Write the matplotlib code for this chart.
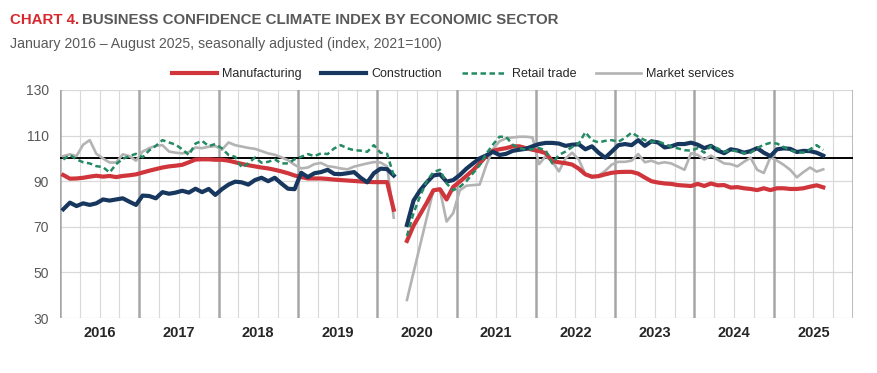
import numpy as np
import matplotlib
matplotlib.use("Agg")
import matplotlib.pyplot as plt
from matplotlib import font_manager
from matplotlib.lines import Line2D

nan = np.nan
years = [str(y) for y in range(2016, 2026)]

manufacturing = [
    92.7, 91.1, 91.2, 91.5, 92.0, 92.4, 92.0, 92.3, 91.8, 92.3, 92.6, 93.0,
    93.8, 94.6, 95.3, 96.0, 96.5, 96.8, 97.2, 98.3, 99.5, 99.6, 99.6, 99.4,
    99.4, 99.0, 98.3, 97.6, 97.0, 96.5, 96.0, 95.6, 95.0, 94.3, 93.5, 92.5,
    91.8, 91.2, 91.2, 91.2, 91.0, 90.7, 90.5, 90.3, 90.1, 89.9, 89.7, 89.6,
    89.6, 89.6, 77.5, nan, 63.8, 70.5, 75.5, 80.5, 86.0, 86.5, 82.0, 87.5,
    89.8, 92.3, 94.8, 97.8, 101.0, 103.3, 104.0, 104.5, 105.3, 105.3, 104.5, 103.8,
    103.2, 102.3, 98.8, 98.3, 97.9, 97.3, 95.5, 93.0, 92.0, 92.2, 93.0, 93.7,
    94.0, 94.1, 94.1, 93.3, 91.6, 90.0, 89.4, 89.0, 88.8, 88.3, 88.1, 87.9,
    88.8, 87.9, 89.0, 88.2, 88.3, 87.2, 87.4, 86.9, 86.6, 86.1, 86.9, 86.1,
    86.9, 86.9, 86.6, 86.6, 86.9, 87.6, 88.2, 87.3,
]
construction = [
    77.7, 80.6, 79.1, 80.3, 79.6, 80.3, 82.0, 81.5, 82.0, 82.5, 81.0, 79.6,
    83.7, 83.5, 82.5, 85.2, 84.5, 85.0, 85.8, 85.0, 86.7, 85.2, 86.6, 84.0,
    86.5, 88.5, 89.8, 89.5, 88.5, 90.5, 91.5, 90.0, 91.5, 89.0, 86.7, 86.5,
    93.7, 91.8, 93.5, 94.0, 95.0, 93.2, 93.1, 93.5, 94.0, 91.5, 89.5, 93.5,
    95.5, 95.3, 92.5, nan, 70.8, 81.5, 86.0, 89.5, 92.5, 93.0, 89.8, 90.5,
    92.7, 95.5, 97.8, 100.0, 101.3, 102.9, 101.5, 102.0, 103.3, 103.8, 104.2, 105.3,
    106.3, 106.8, 106.8, 106.5, 105.5, 106.0, 106.2, 104.0, 105.3, 102.5, 100.3, 103.0,
    105.8, 106.3, 105.8, 108.0, 105.5, 107.5, 107.0, 104.8, 105.3, 106.3, 106.3, 106.9,
    106.0, 104.5, 105.5, 103.5, 102.3, 104.0, 103.5, 102.5, 103.2, 104.5, 102.5, 101.0,
    104.0, 104.4, 104.2, 102.8, 103.3, 103.2, 102.5, 101.2,
]
retail_trade = [
    99.5, 101.5, 99.6, 98.3, 97.8, 96.6, 96.2, 93.8, 97.5, 99.8, 101.0, 102.0,
    100.5, 103.5, 105.5, 108.0, 107.0, 106.0, 104.0, 101.5, 106.5, 107.7, 105.4, 106.3,
    104.4, 101.5, 100.7, 96.0, 97.8, 100.4, 98.1, 98.5, 99.6, 97.8, 97.8, 99.6,
    100.7, 101.9, 101.0, 102.2, 101.9, 104.4, 105.8, 104.4, 103.6, 103.4, 102.9, 105.8,
    102.5, 102.0, 92.5, nan, 66.0, 76.0, 83.5, 90.0, 94.0, 95.0, 89.0, 86.0,
    87.5, 90.0, 93.5, 97.0, 102.0, 106.0, 109.5, 109.5, 106.0, 104.5, 103.8, 104.0,
    104.5, 103.5, 97.8, 101.5, 103.0, 105.0, 106.5, 111.5, 108.0, 107.0, 107.7, 108.0,
    107.3, 109.0, 111.3, 109.5, 108.0, 107.3, 107.5, 106.3, 105.1, 104.4, 103.6, 103.4,
    104.5, 102.5, 105.5, 104.4, 102.9, 103.5, 103.2, 102.3, 102.5, 104.5, 106.0, 106.8,
    106.5, 105.0, 103.5, 102.8, 102.5, 104.0, 105.8, 103.7,
]
market_services = [
    101.0, 101.8, 101.0, 106.0, 108.0, 102.0, 100.0, 98.2, 98.2, 101.8, 101.0, 99.0,
    103.0, 104.5, 105.5, 105.8, 103.0, 102.5, 102.2, 102.8, 104.8, 104.5, 105.1, 105.4,
    103.8, 107.0, 105.8, 105.2, 104.6, 104.2, 103.2, 102.2, 101.6, 100.5, 99.2, 97.2,
    95.6, 96.0, 97.5, 98.0, 96.6, 96.2, 95.6, 95.2, 96.4, 97.1, 97.8, 98.4,
    98.2, 96.5, 74.0, nan, 37.9, 50.0, 62.0, 74.0, 86.0, 86.1, 72.3, 76.0,
    86.0, 88.0, 88.3, 88.5, 97.0, 104.0, 107.5, 108.8, 109.2, 109.5, 109.5, 109.2,
    97.5, 101.0, 98.5, 94.3, 100.0, 102.5, 99.5, 93.0, 91.5, 92.5, 94.5, 97.3,
    98.5, 98.5, 99.0, 101.9, 98.3, 99.0, 97.8, 98.3, 97.8, 96.4, 95.0, 102.3,
    101.5, 99.5, 101.2, 99.5, 97.8, 97.5, 96.5, 98.5, 100.3, 95.0, 93.6, 100.5,
    99.0, 97.2, 95.0, 91.7, 94.0, 96.0, 94.2, 95.2,
]
y_ticks = [30, 50, 70, 90, 110, 130]

names = {f.name for f in font_manager.fontManager.ttflist}
narrow = "Liberation Sans Narrow" if "Liberation Sans Narrow" in names else "Liberation Sans"
plt.rcParams["font.family"] = [narrow, "DejaVu Sans"]

W, H = 878, 373
fig = plt.figure(figsize=(W / 100, H / 100), dpi=100)
ax = fig.add_axes([60 / W, 1 - 318 / H, (853 - 60) / W, (318 - 90) / H])

n_months = 12 * len(years)
x = np.arange(len(manufacturing)) + 0.5

# grid
for q in range(0, n_months + 1, 3):
    if q % 12 == 0:
        ax.axvline(q, color="#a6a6a6", lw=1.8, zorder=1)
    else:
        ax.axvline(q, color="#d9d9d9", lw=0.8, zorder=0.5)
for yv in y_ticks:
    ax.axhline(yv, color="#d9d9d9", lw=0.9, zorder=0.5)
ax.axhline(100, color="black", lw=1.4, zorder=2)

ax.plot(x, market_services, color="#b3b3b3", lw=1.9, zorder=3, label="Market services")
ax.plot(x, manufacturing, color="#d0353b", lw=3.0, zorder=4, label="Manufacturing")
ax.plot(x, construction, color="#17375e", lw=3.0, zorder=5, label="Construction")
ax.plot(x, retail_trade, color="#238a63", lw=1.8, dashes=(2.2, 1.4), zorder=6, label="Retail trade")

ax.set_xlim(0, n_months)
ax.set_ylim(30, 130)
ax.set_yticks(y_ticks)
ax.set_yticklabels([str(v) for v in y_ticks], color="#595959", fontsize=10)
ax.set_xticks(np.arange(len(years)) * 12 + 6)
ax.set_xticklabels(years, fontsize=10.5, fontweight="bold", color="#262626")
ax.tick_params(axis="both", length=0)
ax.tick_params(axis="y", pad=8)
ax.tick_params(axis="x", pad=6)
for s in ax.spines.values():
    s.set_visible(False)

handles = [
    Line2D([], [], color="#d0353b", lw=3.0),
    Line2D([], [], color="#17375e", lw=3.0),
    Line2D([], [], color="#238a63", lw=1.8, dashes=(2.2, 1.4)),
    Line2D([], [], color="#b3b3b3", lw=1.9),
]
labels = ["Manufacturing", "Construction", "Retail trade", "Market services"]
fig.legend(handles, labels, loc="center", bbox_to_anchor=(453 / W, 1 - 74 / H), ncol=4,
           frameon=False, fontsize=9, handlelength=3.6, handletextpad=0.4,
           columnspacing=1.6, labelcolor="#262626")

# title
renderer = fig.canvas.get_renderer()
t1 = fig.text(10 / W, 1 - 20 / H, "CHART 4.", color="#d7282f", fontsize=10.8,
              fontweight="bold", va="center", ha="left")
bb = t1.get_window_extent(renderer=renderer)
fig.text((bb.x1 + 3) / W, 1 - 20 / H, "BUSINESS CONFIDENCE CLIMATE INDEX BY ECONOMIC SECTOR",
         color="#595959", fontsize=10.8, fontweight="bold", va="center", ha="left")
fig.text(10 / W, 1 - 44 / H, "January 2016 \u2013 August 2025, seasonally adjusted (index, 2021=100)",
         color="#595959", fontsize=10.2, va="center", ha="left")

fig.savefig("out.png", dpi=100)
